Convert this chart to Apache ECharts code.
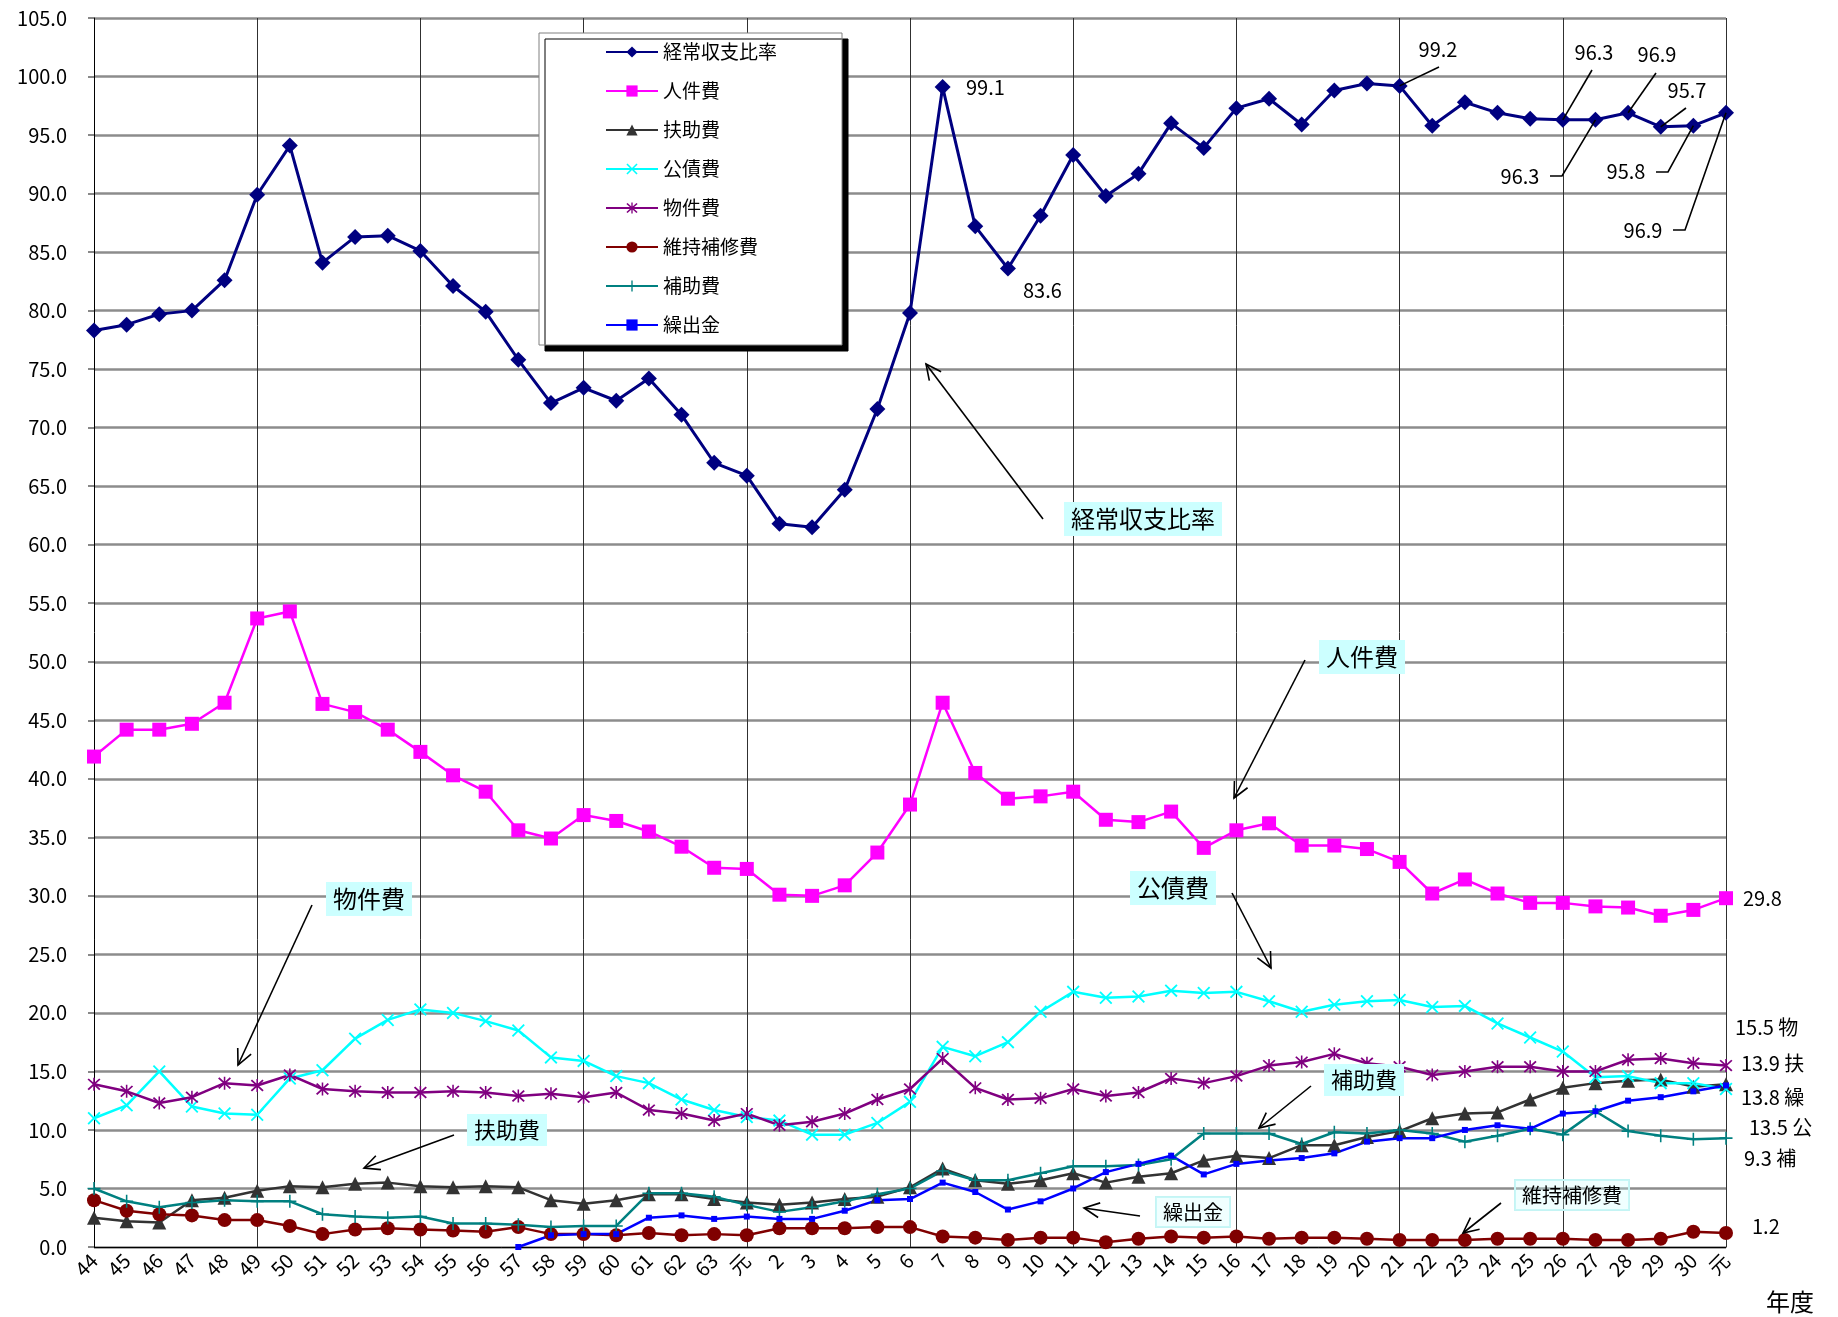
<!DOCTYPE html>
<html><head><meta charset="utf-8">
<script src="https://cdn.jsdelivr.net/npm/echarts@6/dist/echarts.min.js"></script>
<style>html,body{margin:0;padding:0;background:#fff}#c{width:1838px;height:1317px}</style>
</head><body><div id="c"></div>
<script>
// ---- data ----
const years = ['44','45','46','47','48','49','50','51','52','53','54','55','56','57','58','59','60','61','62','63','元',
  '2','3','4','5','6','7','8','9','10','11','12','13','14','15','16','17','18','19','20','21','22','23','24','25','26','27','28','29','30','元'];
const seriesNames = ['経常収支比率','人件費','扶助費','公債費','物件費','維持補修費','補助費','繰出金'];
const keijo = [78.3,78.8,79.7,80.0,82.6,89.9,94.1,84.1,86.3,86.4,85.1,82.1,79.9,75.8,72.1,73.4,72.3,74.2,71.1,67.0,65.9,
  61.8,61.5,64.7,71.6,79.8,99.1,87.2,83.6,88.1,93.3,89.8,91.7,96.0,93.9,97.3,98.1,95.9,98.8,99.4,99.2,95.8,97.8,96.9,96.4,96.3,96.3,96.9,95.7,95.8,96.9];
const jinken = [41.9,44.2,44.2,44.7,46.5,53.7,54.3,46.4,45.7,44.2,42.3,40.3,38.9,35.6,34.9,36.9,36.4,35.5,34.2,32.4,32.3,
  30.1,30.0,30.9,33.7,37.8,46.5,40.5,38.3,38.5,38.9,36.5,36.3,37.2,34.1,35.6,36.2,34.3,34.3,34.0,32.9,30.2,31.4,30.2,29.4,29.4,29.1,29.0,28.3,28.8,29.8];
const fujo = [2.5,2.2,2.1,4.0,4.2,4.8,5.2,5.1,5.4,5.5,5.2,5.1,5.2,5.1,4.0,3.7,4.0,4.5,4.5,4.1,3.8,
  3.6,3.8,4.1,4.3,5.1,6.7,5.7,5.4,5.7,6.3,5.5,6.0,6.3,7.4,7.8,7.6,8.7,8.7,9.4,9.9,11.0,11.4,11.5,12.6,13.6,14.0,14.2,14.3,13.7,13.9];
const kosai = [11.0,12.1,15.0,12.0,11.4,11.3,14.4,15.1,17.8,19.4,20.3,20.0,19.3,18.5,16.2,15.9,14.6,14.0,12.6,11.7,11.1,
  10.8,9.6,9.6,10.6,12.4,17.1,16.3,17.5,20.1,21.8,21.3,21.4,21.9,21.7,21.8,21.0,20.1,20.7,21.0,21.1,20.5,20.6,19.1,17.9,16.7,14.5,14.6,14.0,14.0,13.5];
const butsu = [13.9,13.3,12.3,12.8,14.0,13.8,14.7,13.5,13.3,13.2,13.2,13.3,13.2,12.9,13.1,12.8,13.2,11.7,11.4,10.8,11.4,
  10.4,10.7,11.4,12.6,13.5,16.1,13.6,12.6,12.7,13.5,12.9,13.2,14.4,14.0,14.6,15.5,15.8,16.5,15.7,15.4,14.7,15.0,15.4,15.4,15.0,15.0,16.0,16.1,15.7,15.5];
const ijiho = [4.0,3.1,2.8,2.7,2.3,2.3,1.8,1.1,1.5,1.6,1.5,1.4,1.3,1.7,1.1,1.1,1.0,1.2,1.0,1.1,1.0,
  1.6,1.6,1.6,1.7,1.7,0.9,0.8,0.6,0.8,0.8,0.4,0.7,0.9,0.8,0.9,0.7,0.8,0.8,0.7,0.6,0.6,0.6,0.7,0.7,0.7,0.6,0.6,0.7,1.3,1.2];
const hojo = [5.0,3.9,3.4,3.8,4.0,3.9,3.9,2.8,2.6,2.5,2.6,2.0,2.0,1.9,1.7,1.8,1.8,4.6,4.6,4.3,3.6,
  3.0,3.4,3.9,4.5,5.0,6.5,5.7,5.7,6.3,6.9,6.9,7.0,7.5,9.7,9.7,9.7,8.8,9.8,9.7,10.0,9.7,9.0,9.5,10.1,9.6,11.6,9.9,9.5,9.2,9.3];
const kuri = [null,null,null,null,null,null,null,null,null,null,null,null,null,
  0.0,1.0,1.1,1.1,2.5,2.7,2.4,2.6,
  2.4,2.4,3.1,4.0,4.1,5.5,4.7,3.2,3.9,5.0,6.4,7.1,7.8,6.2,7.1,7.4,7.6,8.0,9.0,9.3,9.3,10.0,10.4,10.1,11.4,11.6,12.5,12.8,13.3,13.8];

// ---- styling ----
const FONT = '"Noto Sans CJK JP","Noto Sans",sans-serif';
const SYM_X = 'path://M0,1L1,0L5,4L9,0L10,1L6,5L10,9L9,10L5,6L1,10L0,9L4,5Z';
const SYM_AST = 'path://M0,1L1,0L5,4L9,0L10,1L6,5L10,9L9,10L5,6L1,10L0,9L4,5ZM4.4,-0.5L5.6,-0.5L5.6,10.5L4.4,10.5Z';
const SYM_PLUS = 'path://M4.4,0L5.6,0L5.6,4.4L10,4.4L10,5.6L5.6,5.6L5.6,10L4.4,10L4.4,5.6L0,5.6L0,4.4L4.4,4.4Z';

function line(name, data, color, symbol, size, width){
  return {name, type:'line', data, symbol, symbolSize:size, showSymbol:true, showAllSymbol:true,
    connectNulls:false, animation:false, emphasis:{disabled:true}, silent:true,
    lineStyle:{color, width}, itemStyle:{color, borderWidth:0}};
}

const chart = echarts.init(document.getElementById('c'), null, {renderer:'canvas', width:1838, height:1317});
const option = {
  animation:false,
  backgroundColor:'#ffffff',
  textStyle:{fontFamily:FONT},
  grid:{left:94, right:112, top:18, bottom:70, containLabel:false, outerBoundsMode:'none'},
  legend:{
    orient:'vertical', left:539, top:33, padding:[9,65,10,66], itemGap:19, itemWidth:52, itemHeight:14, itemTextGap:5,
    backgroundColor:'#ffffff', borderColor:'#808080', borderWidth:1,
    shadowColor:'#000000', shadowBlur:0, shadowOffsetX:6, shadowOffsetY:6,
    selectedMode:false, data:seriesNames,
    textStyle:{fontSize:19, lineHeight:20, color:'#000', fontFamily:FONT}
  },
  xAxis:{
    type:'category', data:years, boundaryGap:false,
    axisLine:{show:true, lineStyle:{color:'#000', width:1}},
    axisTick:{show:false},
    axisLabel:{rotate:45, interval:0, fontSize:20, color:'#000', margin:10, fontFamily:FONT},
    splitLine:{show:true, interval:(i)=> i>0 && i%5===0, lineStyle:{color:'#303030', width:1}}
  },
  yAxis:{
    type:'value', min:0, max:105, interval:5,
    axisLine:{show:true, lineStyle:{color:'#000', width:1}},
    axisTick:{show:true, length:6, lineStyle:{color:'#888', width:2}},
    axisLabel:{formatter:(v)=>v.toFixed(1), fontSize:20, color:'#000', margin:27, fontFamily:FONT},
    splitLine:{show:true, lineStyle:{color:'#8c8c8c', width:2.5}}
  },
  series:[
    line('経常収支比率', keijo, '#000080', 'diamond', 16, 3),
    line('人件費', jinken, '#ff00ff', 'rect', 14, 2.5),
    line('扶助費', fujo, '#333333', 'triangle', 14, 2.5),
    line('公債費', kosai, '#00ffff', SYM_X, 13, 2.5),
    line('物件費', butsu, '#800080', SYM_AST, 13, 2.5),
    line('維持補修費', ijiho, '#800000', 'circle', 14, 2.5),
    line('補助費', hojo, '#008080', SYM_PLUS, 13, 2.5),
    line('繰出金', kuri, '#0000ff', 'rect', 6, 2.5)
  ]
};
chart.setOption(option);

// ---- annotations ----
const P = (i, v) => chart.convertToPixel({xAxisIndex:0, yAxisIndex:0}, [i, v]);
const g = [];
const stroke = {stroke:'#000', lineWidth:1.6, fill:null};
function arrow(x1, y1, x2, y2){
  const dx=x2-x1, dy=y2-y1, L=Math.hypot(dx,dy), ux=dx/L, uy=dy/L, h=17, a=Math.PI/7;
  const c=Math.cos(a), s=Math.sin(a);
  const p1=[x2 - h*(ux*c - uy*s), y2 - h*(uy*c + ux*s)];
  const p2=[x2 - h*(ux*c + uy*s), y2 - h*(uy*c - ux*s)];
  g.push({type:'line', z:50, shape:{x1, y1, x2, y2}, style:stroke});
  g.push({type:'polyline', z:50, shape:{points:[p1,[x2,y2],p2]}, style:stroke});
}
function box(text, x, y, size, bg, border){
  g.push({type:'text', z:60, x, y, style:{text, fontSize:size, fontFamily:FONT, fill:'#000',
    align:'center', verticalAlign:'middle', backgroundColor:bg, padding:[5,7],
    borderColor:border||null, borderWidth:border?1:0, borderType:'dotted'}});
}
function txt(text, x, y, align){
  g.push({type:'text', z:60, x, y, style:{text, fontSize:20, fontFamily:FONT, fill:'#000',
    align:align||'left', verticalAlign:'middle'}});
}
const CY = '#ccffff';
box('経常収支比率', 1143, 519, 24, CY); arrow(1043, 519, 926, 364);
box('人件費', 1362, 657, 24, CY);      arrow(1305, 660, 1234, 798);
box('公債費', 1173, 888, 24, CY);      arrow(1232, 893, 1271, 968);
box('物件費', 369, 899, 24, CY);       arrow(312, 905, 238, 1065);
box('扶助費', 507, 1130, 22, CY);      arrow(454, 1135, 364, 1168);
box('補助費', 1364, 1080, 22, CY);     arrow(1311, 1086, 1259, 1128);
box('繰出金', 1193, 1212, 20, 'rgba(204,255,255,0.3)', '#c4f4f4'); arrow(1140, 1216, 1084, 1208);
box('維持補修費', 1572, 1195, 20, 'rgba(204,255,255,0.3)', '#c4f4f4'); arrow(1501, 1203, 1463, 1233);

// value call-outs on 経常収支比率
const last = keijo.length - 1;
txt(keijo[26].toFixed(1), 966, 87);
txt(keijo[28].toFixed(1), 1023, 290);
function leader(idx, pts, label, lx, ly){
  const p = P(idx, keijo[idx]);
  g.push({type:'polyline', z:50, shape:{points:pts.concat([p])}, style:{stroke:'#000', lineWidth:1.6, fill:null}});
  txt(label, lx, ly, 'center');
}
leader(40, [[1439,67]], '99.2', 1438, 49);
leader(45, [[1592,70]], keijo[45].toFixed(1), 1594, 52);
leader(47, [[1656,73]], keijo[47].toFixed(1), 1657, 54);
leader(48, [[1686,108]], keijo[48].toFixed(1), 1687, 90);
leader(46, [[1550,176],[1562,176]], keijo[46].toFixed(1), 1520, 176);
leader(49, [[1656,172],[1668,172]], keijo[49].toFixed(1), 1626, 171);
leader(last, [[1673,230],[1685,230]], keijo[last].toFixed(1), 1643, 230);

// right-side end values
txt(jinken[last].toFixed(1), 1743, 898);
txt(butsu[last].toFixed(1) + ' 物', 1735, 1027);
txt(fujo[last].toFixed(1) + ' 扶', 1741, 1063);
txt(kuri[last].toFixed(1) + ' 繰', 1741, 1097);
txt(kosai[last].toFixed(1) + ' 公', 1749, 1127);
txt(hojo[last].toFixed(1) + ' 補', 1744, 1158);
txt(ijiho[last].toFixed(1), 1752, 1226);
g.push({type:'text', z:60, x:1790, y:1302, style:{text:'年度', fontSize:24, fontFamily:FONT, fill:'#000', align:'center', verticalAlign:'middle'}});

chart.setOption({graphic:{elements:g}});
</script>
</body></html>
